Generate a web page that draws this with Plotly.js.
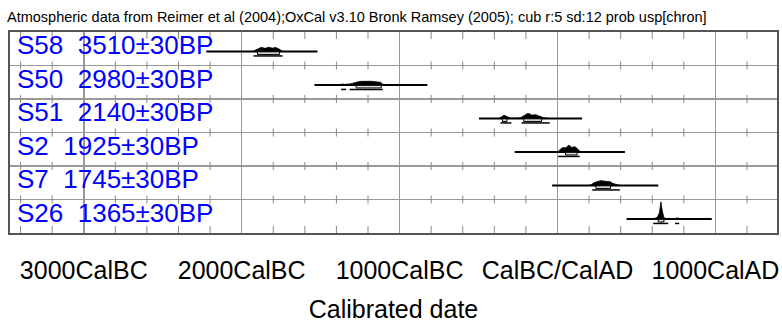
<!DOCTYPE html>
<html><head><meta charset="utf-8">
<script src="https://cdn.plot.ly/plotly-3.0.1.min.js"></script>
<style>html,body{margin:0;padding:0;background:#fff}#chart{width:782px;height:324px}</style>
</head><body><div id="chart"></div>
<script>
// ---- data ----
const samples = ['S58','S50','S51','S2','S7','S26'];
const bpAges = [3510,2980,2140,1925,1745,1365];
const bpErrors = [30,30,30,30,30,30];
const rangeStart = [-2224,-1539,-497,-271,-34,437];
const rangeEnd = [-1520,-824,156,427,638,977];
const distYears = [
  [-1930,-1915,-1900,-1885,-1875,-1865,-1850,-1840,-1830,-1815,-1800,-1790,-1780,-1765,-1750,-1740],
  [-1380,-1370,-1360,-1350,-1330,-1315,-1300,-1280,-1260,-1240,-1230,-1215,-1200,-1185,-1175,-1160,-1145,-1130,-1120,-1110,-1100],
  [-370,-360,-350,-340,-330,-320,-305,-290,-270,-250,-230,-215,-200,-190,-180,-170,-160,-150,-135,-120,-105,-90,-70,-50],
  [0,10,20,30,40,50,60,70,80,90,100,110,120,130,140,150],
  [200,215,230,245,260,275,290,305,320,335,350,365,380,395],
  [600,615,625,635,645,650,655,660,665,672,680,690,700,740,750,757,765,775]
];
const distProb = [
  [0,0.06,0.15,0.21,0.24,0.21,0.18,0.22,0.24,0.21,0.19,0.24,0.22,0.15,0.06,0],
  [0,0.05,0.06,0.03,0.03,0.06,0.09,0.15,0.19,0.21,0.22,0.21,0.21,0.22,0.21,0.2,0.21,0.19,0.15,0.07,0],
  [0,0.06,0.15,0.18,0.15,0.09,0.04,0.02,0.01,0.02,0.06,0.15,0.26,0.29,0.28,0.24,0.19,0.21,0.21,0.15,0.09,0.05,0.02,0],
  [0,0.09,0.18,0.24,0.26,0.24,0.29,0.39,0.35,0.26,0.29,0.31,0.24,0.12,0.05,0],
  [0,0.05,0.15,0.22,0.25,0.28,0.27,0.26,0.25,0.21,0.12,0.07,0.04,0],
  [0,0.02,0.06,0.15,0.35,0.65,1,0.65,0.29,0.12,0.05,0.02,0,0,0.05,0.07,0.05,0]
];
const ranges68 = [
  [[-1900,-1760]],
  [[-1275,-1116]],
  [[-349,-320],[-214,-101]],
  [[51,124]],
  [[243,336]],
  [[638,674]]
];
const ranges95 = [
  [[-1925,-1741]],
  [[-1370,-1338],[-1317,-1106]],
  [[-361,-292],[-228,-49]],
  [[4,141]],
  [[220,395]],
  [[606,701],[744,771]]
];
const tickVals = [-3000,-2000,-1000,0,1000];
const tickLabels = ['3000CalBC','2000CalBC','1000CalBC','CalBC/CalAD','1000CalAD'];
const titleText = 'Atmospheric data from Reimer et al (2004);OxCal v3.10 Bronk Ramsey (2005); cub r:5 sd:12 prob usp[chron]';
const xTitle = 'Calibrated date';

// ---- layout constants ----
const X_RANGE = [-3467, 1390];
const N = samples.length;
const PLOT_H_PX = 200.5;
const PXU = N / PLOT_H_PX;        // y units per pixel
const BASE_OFF = 0.42;            // baseline position within row
const PEAK_PX = 17;               // pixel height for probability 1
const FONT = '"Liberation Sans", Arial, sans-serif';

const traces = [];
const annotations = [];
const shapes = [];

samples.forEach((s, i) => {
  const base = (N - 1 - i) + BASE_OFF;
  traces.push({x:[rangeStart[i], rangeEnd[i]], y:[base, base], mode:'lines',
    line:{color:'#000', width:2}, hoverinfo:'skip', showlegend:false});
  traces.push({x:distYears[i], y:distProb[i].map(p => base + p*PEAK_PX*PXU), mode:'lines',
    fill:'toself', fillcolor:'#000', line:{color:'#000', width:0.8},
    hoverinfo:'skip', showlegend:false});
  ranges68[i].forEach(r => {
    const y0 = base - 0.4*PXU, y1 = base - 3*PXU;
    traces.push({x:[r[0], r[1], r[1], r[0], r[0]], y:[y0, y0, y1, y1, y0], mode:'lines',
      fill:'toself', fillcolor:'#e0e0e0', line:{color:'#000', width:1},
      hoverinfo:'skip', showlegend:false});
  });
  ranges95[i].forEach(r => {
    const y = base - 4.5*PXU;
    traces.push({x:[r[0], r[1]], y:[y, y], mode:'lines',
      line:{color:'#000', width:1.5}, hoverinfo:'skip', showlegend:false});
  });
  annotations.push({xref:'paper', yref:'y', x:0.006, y:(N - 1 - i) + 0.6,
    xanchor:'left', yanchor:'middle', showarrow:false,
    text: `${s}  ${bpAges[i]}±${bpErrors[i]}BP`,
    font:{family:FONT, size:26, color:'#0000ff'}});
});

for (let t = -3400; t <= 1200; t += 200) {
  if (tickVals.includes(t)) continue;
  const tc = {color:'#888', width:1};
  shapes.push({type:'line', xref:'x', yref:'y', x0:t, x1:t, y0:N, y1:N - 7*PXU, line:tc});
  shapes.push({type:'line', xref:'x', yref:'y', x0:t, x1:t, y0:0, y1:7*PXU, line:tc});
  for (let k = 1; k < N; k++) {
    shapes.push({type:'line', xref:'x', yref:'y', x0:t, x1:t, y0:k - 4*PXU, y1:k + 4*PXU, line:tc});
  }
}

const layout = {
  width:782, height:324,
  margin:{l:10, r:5, t:32, b:91},
  paper_bgcolor:'#fff', plot_bgcolor:'#fff',
  title:{text:titleText, font:{family:FONT, size:14.5, color:'#000'},
    xref:'container', yref:'container', x:7/782, xanchor:'left', y:1 - 17/324, yanchor:'middle'},
  xaxis:{range:X_RANGE, tickvals:tickVals, ticktext:tickLabels, ticks:'',
    showgrid:true, gridcolor:'#999', gridwidth:1.5, zeroline:false,
    showline:true, mirror:true, linecolor:'#555', linewidth:2,
    tickfont:{family:FONT, size:25, color:'#000'}, ticklabelstandoff:14,
    title:{text:xTitle, font:{family:FONT, size:25, color:'#000'}, standoff:17}},
  yaxis:{range:[0, N], tickvals:[1,2,3,4,5], showticklabels:false, ticks:'',
    showgrid:true, gridcolor:'#999', gridwidth:1.5, zeroline:false,
    showline:true, mirror:true, linecolor:'#555', linewidth:2, fixedrange:true},
  annotations, shapes, showlegend:false
};

Plotly.newPlot('chart', traces, layout, {displayModeBar:false, staticPlot:true});
</script></body></html>
